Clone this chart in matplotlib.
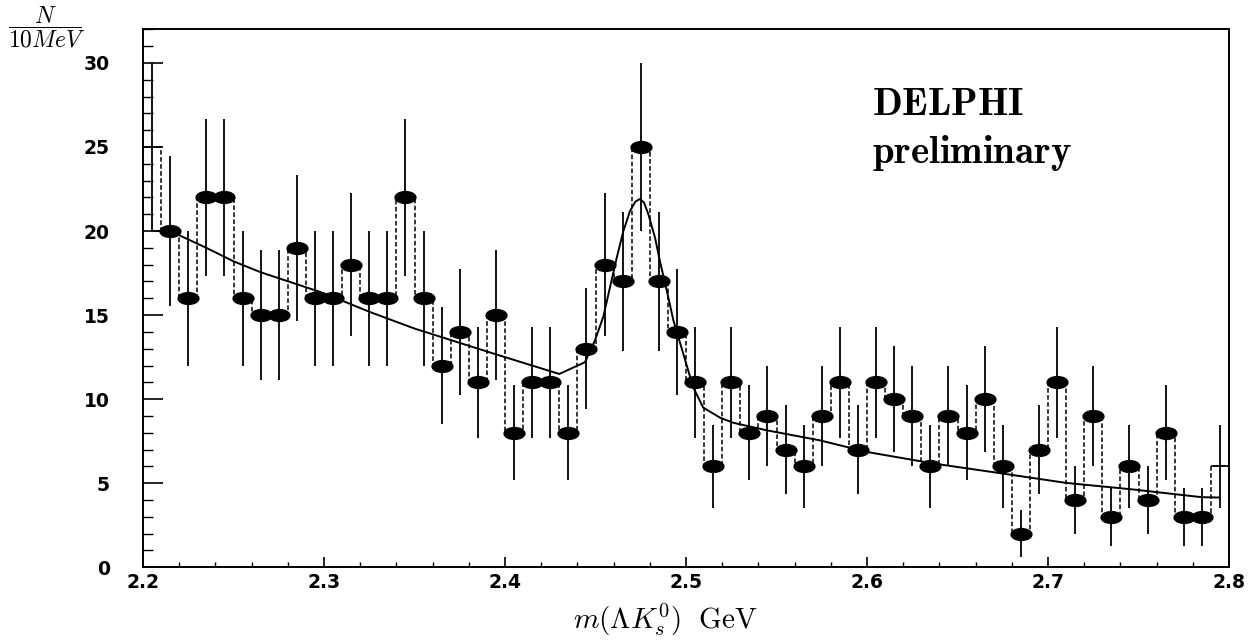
import numpy as np
import matplotlib
matplotlib.use('Agg')
import matplotlib.pyplot as plt
from matplotlib.path import Path
from matplotlib.transforms import Affine2D
from matplotlib.ticker import MultipleLocator

plt.rcParams['mathtext.fontset'] = 'cm'
plt.rcParams['font.family'] = ['DejaVu Sans']

# histogram: 10 MeV bins from 2.20 to 2.80 GeV
mass_lo   = 2.20
bin_width = 0.01
counts = [25,
          20, 16, 22, 22, 16, 15, 15, 19, 16, 16,
          18, 16, 16, 22, 16, 12, 14, 11, 15, 8,
          11, 11, 8, 13, 18, 17, 25, 17, 14, 11,
          6, 11, 8, 9, 7, 6, 9, 11, 7, 11,
          10, 9, 6, 9, 8, 10, 6, 2, 7, 11,
          4, 9, 3, 6, 4, 8, 3, 3,
          6]

# fitted curve
fit_x = [2.205, 2.215, 2.235, 2.250, 2.265, 2.300, 2.325, 2.350, 2.394, 2.430,
         2.4442, 2.4497, 2.4543, 2.4580, 2.4617, 2.4654, 2.4691, 2.4720, 2.4744, 2.4768,
         2.4792, 2.4829, 2.4856, 2.4893, 2.4930, 2.4985, 2.5040, 2.5095, 2.5188, 2.526,
         2.5445, 2.574, 2.600, 2.637, 2.6735, 2.710, 2.747, 2.775, 2.785, 2.795]
fit_y = [20.0, 20.0, 19.0, 18.2, 17.55, 16.3, 15.2, 14.2, 12.7, 11.5,
         12.2, 13.5, 14.9, 16.65, 18.4, 20.0, 21.2, 21.75, 21.9, 21.7,
         21.0, 19.6, 18.2, 16.5, 14.7, 12.7, 10.7, 9.5, 8.9, 8.6,
         8.15, 7.55, 6.86, 6.17, 5.6, 5.02, 4.63, 4.29, 4.17, 4.15]

counts  = np.array(counts, dtype=float)
edges   = mass_lo + bin_width * np.arange(len(counts) + 1)
centers = 0.5 * (edges[:-1] + edges[1:])
errors  = np.sqrt(counts)

fig = plt.figure(figsize=(12.59, 6.43), dpi=100)
ax  = fig.add_axes([143/1259, 1 - 567.3/643, (1229 - 143)/1259, (567.3 - 29.3)/643])

# dashed histogram outline
ax.stairs(counts, edges, baseline=None, color='k', lw=1.1, linestyle=(0, (3, 1.6)))
# first and last bins: plain solid tops, no marker
ax.hlines(counts[[0, -1]], edges[[0, -2]], edges[[1, -1]], color='k', lw=1.2)

ax.errorbar(centers, counts, yerr=errors, fmt='none', ecolor='k', elinewidth=1.3)

ellipse = Path.unit_circle().transformed(Affine2D().scale(1.0, 0.57))
ax.plot(centers[1:-1], counts[1:-1], linestyle='none', marker=ellipse,
        markersize=15, color='k')

ax.plot(fit_x, fit_y, color='k', lw=1.4)

ax.set_xlim(2.2, 2.8)
ax.set_ylim(0, 32)
ax.xaxis.set_minor_locator(MultipleLocator(0.02))
ax.yaxis.set_minor_locator(MultipleLocator(1))
ax.set_yticks([0, 5, 10, 15, 20, 25, 30])
ax.set_xticks([2.2, 2.3, 2.4, 2.5, 2.6, 2.7, 2.8])
ax.set_xticklabels(['2.2', '2.3', '2.4', '2.5', '2.6', '2.7', '2.8'])

ax.tick_params(axis='x', which='major', direction='in', length=7, width=1.2, pad=4, labelsize=13.5)
ax.tick_params(axis='x', which='minor', direction='in', length=3.5, width=1.0)
ax.tick_params(axis='y', which='major', direction='in', length=14.4, width=1.2, pad=24, labelsize=13.5)
ax.tick_params(axis='y', which='minor', direction='in', length=7.2, width=1.0)
for lab in ax.get_xticklabels() + ax.get_yticklabels():
    lab.set_fontweight('bold')
for s in ax.spines.values():
    s.set_linewidth(1.4)

fig.text(47/1259, 1 - 27/643, r'$\dfrac{N}{10MeV}$', fontsize=17, ha='center', va='center')
fig.text(665/1259, 1 - 620/643, r'$m(\Lambda K_s^0)\ \ \mathrm{GeV}$', fontsize=21,
         ha='center', va='center')

ax.text(872/1259, 1 - 104/643, r'$\mathbf{DELPHI}$', transform=fig.transFigure,
        fontsize=28, ha='left', va='center')
ax.text(872/1259, 1 - 153/643, r'$\mathbf{preliminary}$', transform=fig.transFigure,
        fontsize=28, ha='left', va='center')

fig.savefig('out.png', dpi=100)
